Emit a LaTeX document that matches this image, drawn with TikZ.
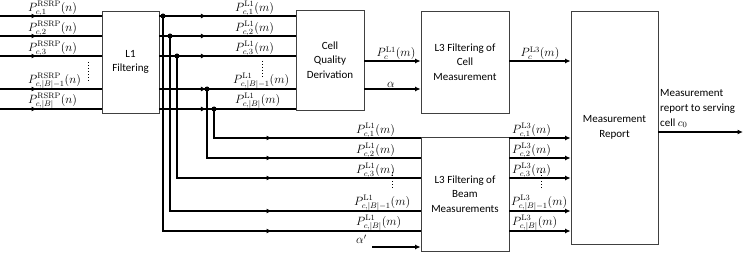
\documentclass[tikz,border=0pt]{standalone}
\usepackage[no-math]{fontspec}
\setmainfont{Carlito}
\usepackage{amsmath}
\usetikzlibrary{arrows.meta, positioning, calc}

\begin{document}
\begin{tikzpicture}[x=1pt, y=-1pt,
  blk/.style={draw=black!75, line width=0.8pt, align=center, inner sep=2pt, font=\fontsize{11}{14.5}\selectfont},
  sig/.style={line width=1.6pt},
  brn/.style={line width=1.2pt},
  arr/.style={sig, -{Latex[length=5.5pt,width=5pt]}},
  lbl/.style={anchor=south west, inner sep=0pt, font=\fontsize{12}{13}\selectfont},
  jdot/.style={circle, fill, inner sep=0pt, minimum size=5pt},
  dots/.style={dotted, line width=1pt}
]
  \useasboundingbox (0,0) rectangle (748,262);

  % blocks
  \node[blk, minimum width=57pt, minimum height=102pt] (l1) at (130.5,62) {L1\\Filtering};
  \node[blk, minimum width=68pt, minimum height=100pt] (cq) at (330,60) {Cell\\Quality\\Derivation};
  \node[blk, minimum width=88pt, minimum height=102pt] (l3c) at (465,62) {L3 Filtering of\\Cell\\Measurement};
  \node[blk, minimum width=88pt, minimum height=114pt] (l3b) at (465,194) {L3 Filtering of\\Beam\\Measurements};
  \node[blk, minimum width=87pt, minimum height=233pt] (mr) at (614.5,127.5) {Measurement\\Report};

  % signal rows
  \coordinate (i1) at (0,16);
  \coordinate (i2) at (0,36);
  \coordinate (i3) at (0,56);
  \coordinate (i4) at (0,89);
  \coordinate (i5) at (0,109);
  \coordinate (b1) at (0,138);
  \coordinate (b2) at (0,158);
  \coordinate (b3) at (0,178);
  \coordinate (b4) at (0,211);
  \coordinate (b5) at (0,231);

  % RSRP inputs
  \draw[sig] (i1) -- (i1 -| l1.west);
  \draw[sig] (i2) -- (i2 -| l1.west);
  \draw[sig] (i3) -- (i3 -| l1.west);
  \draw[sig] (i4) -- (i4 -| l1.west);
  \draw[sig] (i5) -- (i5 -| l1.west);
  \draw[arr] (i1) -- ++(37,0);
  \draw[arr] (i2) -- ++(37,0);
  \draw[arr] (i3) -- ++(37,0);
  \draw[arr] (i4) -- ++(37,0);
  \draw[arr] (i5) -- ++(37,0);
  \node[lbl] (ri1) at (28,16) {$P^{\mathrm{RSRP}}_{c,1}(n)$};
  \node[lbl] (ri2) at (28,36) {$P^{\mathrm{RSRP}}_{c,2}(n)$};
  \node[lbl] (ri3) at (28,56) {$P^{\mathrm{RSRP}}_{c,3}(n)$};
  \node[lbl] (ri4) at (28,89) {$P^{\mathrm{RSRP}}_{c,|B|-1}(n)$};
  \node[lbl] (ri5) at (28,109) {$P^{\mathrm{RSRP}}_{c,|B|}(n)$};
  \draw[dots] (88,62) -- (88,81);

  % L1 outputs
  \draw[sig] (l1.east |- i1) -- (cq.west |- i1);
  \draw[sig] (l1.east |- i2) -- (cq.west |- i2);
  \draw[sig] (l1.east |- i3) -- (cq.west |- i3);
  \draw[sig] (l1.east |- i4) -- (cq.west |- i4);
  \draw[sig] (l1.east |- i5) -- (cq.west |- i5);
  \draw[arr] (l1.east |- i1) -- ++(47,0);
  \draw[arr] (l1.east |- i2) -- ++(47,0);
  \draw[arr] (l1.east |- i3) -- ++(47,0);
  \draw[arr] (l1.east |- i4) -- ++(47,0);
  \draw[arr] (l1.east |- i5) -- ++(47,0);
  \node[lbl] (lo1) at (235,16) {$P^{\mathrm{L1}}_{c,1}(m)$};
  \node[lbl] (lo2) at (235,36) {$P^{\mathrm{L1}}_{c,2}(m)$};
  \node[lbl] (lo3) at (235,56) {$P^{\mathrm{L1}}_{c,3}(m)$};
  \node[lbl] (lo4) at (233,89) {$P^{\mathrm{L1}}_{c,|B|-1}(m)$};
  \node[lbl] (lo5) at (235,109) {$P^{\mathrm{L1}}_{c,|B|}(m)$};
  \draw[dots] (262,61) -- (262,77);

  % branches to beam filtering
  \node[jdot] (d1) at (163,16) {};
  \node[jdot] (d2) at (170,36) {};
  \node[jdot] (d3) at (177,56) {};
  \node[jdot] (d4) at (207,89) {};
  \node[jdot] (d5) at (214,109) {};
  \draw[brn] (d1.center) -- (d1.center |- b5) -- (l3b.west |- b5);
  \draw[brn] (d2.center) -- (d2.center |- b4) -- (l3b.west |- b4);
  \draw[brn] (d3.center) -- (d3.center |- b3) -- (l3b.west |- b3);
  \draw[brn] (d4.center) -- (d4.center |- b2) -- (l3b.west |- b2);
  \draw[brn] (d5.center) -- (d5.center |- b1) -- (l3b.west |- b1);
  \draw[arr, brn] (d1.center |- b5) -- ++(109,0);
  \draw[arr, brn] (d2.center |- b4) -- ++(102,0);
  \draw[arr, brn] (d3.center |- b3) -- ++(95,0);
  \draw[arr, brn] (d4.center |- b2) -- ++(65,0);
  \draw[arr, brn] (d5.center |- b1) -- ++(58,0);
  \node[lbl] (bi1) at (356,138) {$P^{\mathrm{L1}}_{c,1}(m)$};
  \node[lbl] (bi2) at (356,158) {$P^{\mathrm{L1}}_{c,2}(m)$};
  \node[lbl] (bi3) at (356,178) {$P^{\mathrm{L1}}_{c,3}(m)$};
  \node[lbl] (bi4) at (354,211) {$P^{\mathrm{L1}}_{c,|B|-1}(m)$};
  \node[lbl] (bi5) at (356,231) {$P^{\mathrm{L1}}_{c,|B|}(m)$};
  \draw[dots] (392,172) -- (392,188);
  \coordinate (ap) at (372,247);
  \draw[arr] (ap) -- (ap -| l3b.west);
  \node[lbl] (apl) at (356,244) {$\alpha'$};

  % cell quality outputs
  \coordinate (c1) at (0,61);
  \coordinate (c2) at (0,89);
  \draw[arr] (cq.east |- c1) -- (l3c.west |- c1);
  \draw[arr] (cq.east |- c2) -- (l3c.west |- c2);
  \node[lbl, anchor=south] (co1) at (396,60) {$P^{\mathrm{L1}}_{c}(m)$};
  \node[lbl, anchor=south] (co2) at (391,88) {$\alpha$};

  % L3 outputs
  \draw[arr] (l3c.east |- c1) -- (mr.west |- c1);
  \node[lbl, anchor=south] (l3o) at (540,60) {$P^{\mathrm{L3}}_{c}(m)$};
  \draw[arr] (l3b.east |- b1) -- (mr.west |- b1);
  \draw[arr] (l3b.east |- b2) -- (mr.west |- b2);
  \draw[arr] (l3b.east |- b3) -- (mr.west |- b3);
  \draw[arr] (l3b.east |- b4) -- (mr.west |- b4);
  \draw[arr] (l3b.east |- b5) -- (mr.west |- b5);
  \node[lbl] (bo1) at (512,138) {$P^{\mathrm{L3}}_{c,1}(m)$};
  \node[lbl] (bo2) at (512,158) {$P^{\mathrm{L3}}_{c,2}(m)$};
  \node[lbl] (bo3) at (512,178) {$P^{\mathrm{L3}}_{c,3}(m)$};
  \node[lbl] (bo4) at (511,211) {$P^{\mathrm{L3}}_{c,|B|-1}(m)$};
  \node[lbl] (bo5) at (512,231) {$P^{\mathrm{L3}}_{c,|B|}(m)$};
  \draw[dots] (541,172) -- (541,188);

  % report
  \coordinate (rep) at (743,132);
  \draw[arr] (mr.east |- rep) -- (rep);
  \node[anchor=north west, inner sep=1pt, align=left, font=\fontsize{11}{15}\selectfont] (rtxt) at (659,88) {Measurement\\report to serving\\cell $c_0$};
\end{tikzpicture}
\end{document}
